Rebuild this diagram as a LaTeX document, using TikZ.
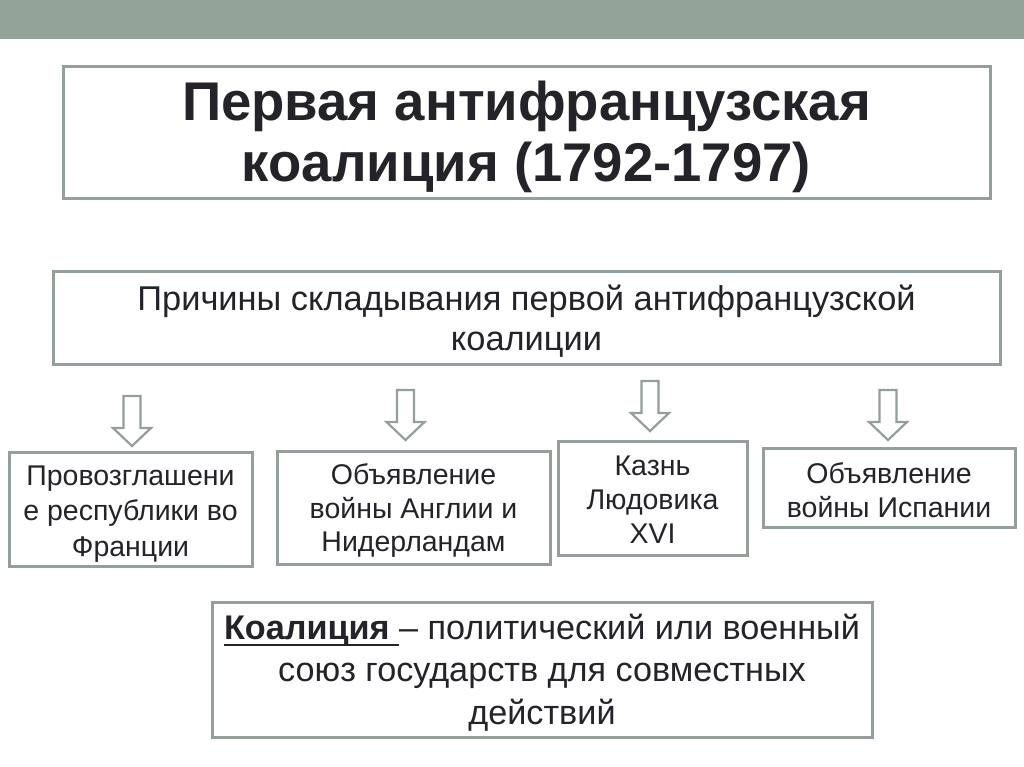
\documentclass[tikz,border=0pt]{standalone}
\usepackage{fontspec}
\setmainfont{Liberation Sans}
\definecolor{bar}{HTML}{93A398}
\definecolor{frame}{HTML}{949F97}
\definecolor{ink}{HTML}{232329}
\newcommand\thickul[1]{\setbox0\hbox{#1}\rlap{\color{ink}\rule[-7pt]{\wd0}{2.6pt}}\box0}
\begin{document}
\begin{tikzpicture}[x=1pt,y=-1pt,
  box/.style={draw=frame, line width=3pt, fill=white, inner sep=0pt},
  txt/.style={inner sep=0pt, align=center, text=ink},
  arrowshape/.style={draw=frame, line width=2.2pt, fill=white, line join=miter},
  downarrow/.pic={\path[arrowshape] (-8.5,0) -- (8.5,0) -- (8.5,32) -- (19,32) -- (0,50) -- (-19,32) -- (-8.5,32) -- cycle;}
]
\useasboundingbox[fill=white] (0,0) rectangle (1024,767);
\fill[bar] (0,0) rectangle (1024,39);

\node[box, minimum width=927, minimum height=132] (title) at (526.5,133) {};
\node[txt, font=\fontsize{54.5}{61}\selectfont\bfseries, yshift=-3.5]
  (titletext) at (title.center) {Первая антифранцузская\\коалиция (1792-1797)};

\node[box, minimum width=947, minimum height=93] (causes) at (526.5,317.5) {};
\node[txt, font=\fontsize{34.4}{40}\selectfont, yshift=-3.5]
  (causestext) at (causes.center) {Причины складывания первой антифранцузской\\коалиции};

\pic at (132,396) {downarrow};
\pic at (405.5,390) {downarrow};
\pic at (650,381) {downarrow};
\pic at (888,390) {downarrow};

\node[box, minimum width=243, minimum height=114] (c1) at (130.5,509) {};
\node[txt, font=\fontsize{28.5}{35.5}\selectfont, yshift=-5]
  (c1text) at (c1.center) {Провозглашени\\е республики во\\Франции};
\node[box, minimum width=273, minimum height=113] (c2) at (413.5,507.5) {};
\node[txt, font=\fontsize{28.5}{33.5}\selectfont, yshift=-3.5]
  (c2text) at (c2.center) {Объявление\\войны Англии и\\Нидерландам};
\node[box, minimum width=189, minimum height=114] (c3) at (652.5,498) {};
\node[txt, font=\fontsize{28.5}{34}\selectfont, yshift=-2]
  (c3text) at (c3.center) {Казнь\\Людовика\\XVI};
\node[box, minimum width=252, minimum height=79] (c4) at (889,487.5) {};
\node[txt, font=\fontsize{28.5}{34}\selectfont, yshift=-2.5]
  (c4text) at (c4.center) {Объявление\\войны Испании};

\node[box, minimum width=660, minimum height=135] (def) at (542,669.5) {};
\node[txt, font=\fontsize{34.2}{42.5}\selectfont, yshift=-3]
  (deftext) at (def.center) {\thickul{\bfseries Коалиция }– политический или военный\\союз государств для совместных\\действий};
\end{tikzpicture}
\end{document}
